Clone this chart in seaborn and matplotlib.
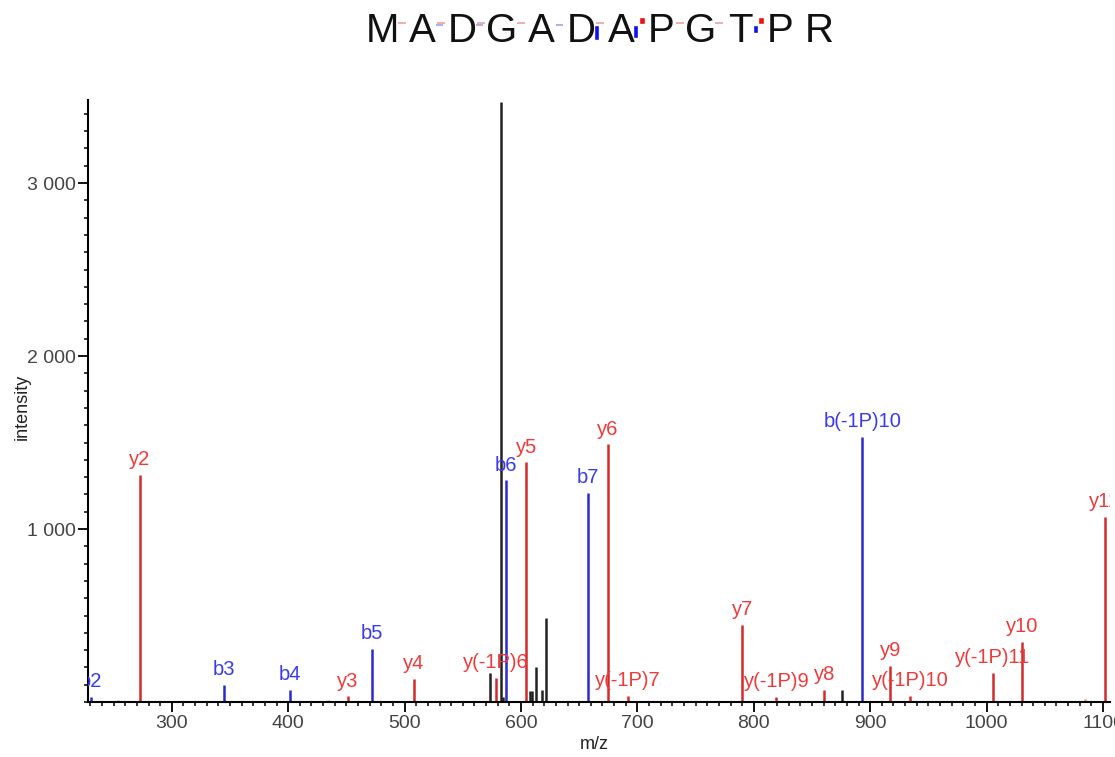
import numpy as np
import pandas as pd
import seaborn as sns
import matplotlib.pyplot as plt
from matplotlib.ticker import MultipleLocator, FuncFormatter

sns.set_theme(style="ticks")
plt.rcParams['font.family'] = ['Liberation Sans', 'DejaVu Sans']

# Peptide sequence and fragment markers

sequence = list("MADGADAPGTPR")
b_gaps = [5, 6, 9]
b_sizes = [15, 13, 8]
y_gaps = [6, 9]
y_sizes = [7, 7]
faint_red_gaps = [0, 1, 2, 3, 5, 7, 8]
faint_blue_gaps = [1, 2, 4]

# Matched ions

b_mz = [230.4, 344.7, 401.5, 472.0, 587.2, 657.4, 893.3]
b_int = [30, 98, 70, 307, 1283, 1210, 1532]
b_labels = ["b2", "b3", "b4", "b5", "b6", "b7", "b(-1P)10"]

y_mz = [272.5, 451.3, 508.1, 578.6, 604.4, 674.6, 692.1, 790.1, 819.4,
        860.6, 917.4, 934.6, 1005.1, 1030.6, 1101.4]
y_int = [1314, 32, 133, 139, 1387, 1490, 35, 445, 30,
         70, 208, 35, 170, 348, 1070]
y_labels = ["y2", "y3", "y4", "y(-1P)6", "y5", "y6", "y(-1P)7", "y7", "y(-1P)9",
            "y8", "y9", "y(-1P)10", "y(-1P)11", "y10", "y11"]

# Unmatched peaks

other_mz = [573.4, 582.5, 584.6, 607.8, 609.5, 613.0, 617.9, 621.6, 876.1]
other_int = [168, 3470, 30, 65, 65, 203, 70, 485, 70]
minor_mz = [253.6, 434.1, 1084.2]
minor_int = [12, 12, 15]

red_line, red_text = "#d42a2a", "#f03a3a"
blue_line, blue_text = "#2a2ad0", "#3a3af0"

fig = plt.figure(figsize=(11.15, 7.57), dpi=100)

# Spectrum

ax = fig.add_axes([88/1115, 55/757, 1022/1115, 602/757])
ax.vlines(minor_mz, 0, minor_int, color="#d9a030", lw=1.8)
ax.vlines(other_mz, 0, other_int, color="#222222", lw=1.8)
ax.vlines(b_mz, 0, b_int, color=blue_line, lw=1.8)
ax.vlines(y_mz, 0, y_int, color=red_line, lw=1.8)

for mz, h, lab in zip(b_mz, b_int, b_labels):
    ax.annotate(lab, (mz, h), xytext=(0, 4), textcoords="offset points",
                ha="center", va="bottom", color=blue_text, fontsize=14.5, clip_on=True)
for mz, h, lab in zip(y_mz, y_int, y_labels):
    ax.annotate(lab, (mz, h), xytext=(0, 4), textcoords="offset points",
                ha="center", va="bottom", color=red_text, fontsize=14.5, clip_on=True)

ax.set_xlim(228, 1106)
ax.set_ylim(0, 3480)
ax.xaxis.set_major_locator(MultipleLocator(100))
ax.xaxis.set_minor_locator(MultipleLocator(10))
ax.set_yticks([1000, 2000, 3000])
ax.yaxis.set_minor_locator(MultipleLocator(100))
ax.yaxis.set_major_formatter(FuncFormatter(lambda v, p: f"{int(v):,}".replace(",", " ")))
ax.tick_params(which="major", length=7, width=1.3, pad=2, color="black", labelsize=14, labelcolor="#444444")
ax.tick_params(which="minor", length=3, width=1.1, color="black")
sns.despine(ax=ax)
for s in ["left", "bottom"]:
    ax.spines[s].set_linewidth(1.5)
    ax.spines[s].set_color("black")
ax.set_xlabel("m/z", fontsize=13, color="#222222")
ax.set_ylabel("intensity", fontsize=13, color="#222222")
ax.xaxis.set_label_coords(0.495, -0.057)
ax.yaxis.set_label_coords(-0.056, 0.49)

# Sequence header

sax = fig.add_axes([363/1115, 1 - 60/757, 476.4/1115, 60/757])
sax.set_xlim(-0.5, 11.5)
sax.set_ylim(60, 0)
sax.axis("off")
for i, aa in enumerate(sequence):
    sax.text(i, 42, aa, ha="center", va="baseline", fontsize=29, color="#111111")
px = 1/39.7
sax.hlines([23]*len(faint_red_gaps), [g + 0.5 - 5*px for g in faint_red_gaps],
           [g + 0.5 + 3*px for g in faint_red_gaps], color="#f0a8a8", lw=1.3)
sax.hlines([25]*len(faint_blue_gaps), [g + 0.5 - 6*px for g in faint_blue_gaps],
           [g + 0.5 + 1*px for g in faint_blue_gaps], color="#a8a8f0", lw=1.3)
sax.bar([g + 0.5 - 5*px for g in b_gaps], b_sizes, bottom=25, width=5*px, color="#1010ee")
sax.bar([g + 0.5 + 1*px for g in y_gaps], [-s for s in y_sizes], bottom=24, width=6*px, color="#ee1010")

fig.savefig("out.png", dpi=100)
